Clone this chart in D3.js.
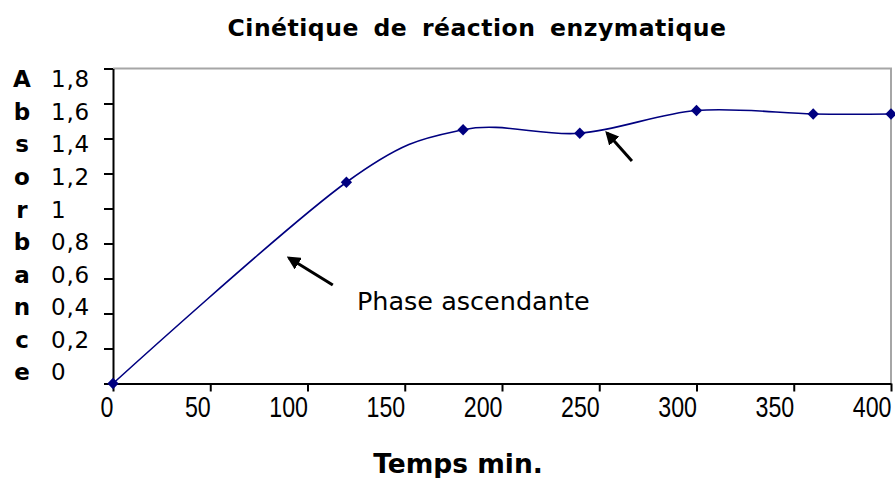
<!DOCTYPE html>
<html>
<head>
<meta charset="utf-8">
<script src="https://cdn.jsdelivr.net/npm/d3@7"></script>
<style>
  body { margin: 0; background: #fff; }
  svg { display: block; }
</style>
</head>
<body>
<div id="chart"></div>
<script>
// data
var temps = [0, 120, 180, 240, 300, 360, 400];
var absorbance = [0, 1.15, 1.45, 1.43, 1.56, 1.54, 1.54];
var xTicks = [0, 50, 100, 150, 200, 250, 300, 350, 400];
var yTicks = [0, 0.2, 0.4, 0.6, 0.8, 1, 1.2, 1.4, 1.6, 1.8];
var yLetters = ["A", "b", "s", "o", "r", "b", "a", "n", "c", "e"];
var yLabels = ["1,8", "1,6", "1,4", "1,2", "1", "0,8", "0,6", "0,4", "0,2", "0"];
// annotation arrows in data units: [tail, tip]
var arrows = [
  [[113, 0.563], [90.5, 0.717]],
  [[266.8, 1.271], [254, 1.431]]
];
var note = {x: 125.4, y: 0.42, text: "Phase ascendante"};

var width = 895,
    height = 478;

var svg = d3.select("#chart").append("svg")
    .attr("width", width)
    .attr("height", height);

var x = d3.scaleLinear().domain([0, 400]).range([113, 891]);
var y = d3.scaleLinear().domain([0, 1.8]).range([383.5, 68.5]);

// title
svg.append("text")
    .attr("x", 477)
    .attr("y", 36)
    .attr("text-anchor", "middle")
    .style("font-family", "DejaVu Sans, Verdana, sans-serif")
    .style("font-weight", "bold")
    .style("font-size", "23.5px")
    .style("letter-spacing", "0.5px")
    .style("word-spacing", "6px")
    .text("Cinétique de réaction enzymatique");

// plot frame: grey top and right
svg.append("path")
    .attr("d", "M" + x(0) + "," + y(1.8) + "H" + x(400) + "V" + y(0))
    .attr("fill", "none")
    .attr("stroke", "#a6a6a6")
    .attr("stroke-width", 2);

// axes
var xAxis = svg.append("g")
    .attr("transform", "translate(0," + y(0) + ")")
    .call(d3.axisBottom(x).tickValues(xTicks).tickSize(8).tickSizeOuter(0).tickPadding(5));

// narrow digits: squeeze horizontally around the tick
xAxis.selectAll("text")
    .attr("text-anchor", "end")
    .attr("transform", "scale(0.8,1)")
    .style("font-family", "Liberation Sans, Arial, sans-serif")
    .style("font-size", "29px")
    .attr("fill", "#000");

var yAxis = svg.append("g")
    .attr("transform", "translate(" + x(0) + ",0)")
    .call(d3.axisLeft(y).tickValues(yTicks).tickSize(9).tickSizeOuter(0).tickFormat(""));

svg.selectAll(".domain, .tick line")
    .attr("stroke", "#000")
    .attr("stroke-width", 2);

// vertical axis title and the value column, as a text block
var rows = d3.scalePoint().domain(d3.range(yLabels.length)).range([79, 372]);

svg.append("g").selectAll("text")
    .data(yLetters)
    .join("text")
    .attr("x", 22)
    .attr("y", function(d, i) { return rows(i); })
    .attr("dy", "0.36em")
    .attr("text-anchor", "middle")
    .style("font-family", "DejaVu Sans, Verdana, sans-serif")
    .style("font-weight", "bold")
    .style("font-size", "23px")
    .text(function(d) { return d; });

svg.append("g").selectAll("text")
    .data(yLabels)
    .join("text")
    .attr("x", 51)
    .attr("y", function(d, i) { return rows(i); })
    .attr("dy", "0.36em")
    .style("font-family", "DejaVu Sans, Verdana, sans-serif")
    .style("font-size", "23px")
    .style("letter-spacing", "0.8px")
    .text(function(d) { return d; });

// x axis title
svg.append("text")
    .attr("x", 458)
    .attr("y", 473)
    .attr("text-anchor", "middle")
    .style("font-family", "DejaVu Sans, Verdana, sans-serif")
    .style("font-weight", "bold")
    .style("font-size", "26.5px")
    .text("Temps min.");

// series
var points = temps.map(function(t, i) { return [t, absorbance[i]]; });

var line = d3.line()
    .x(function(d) { return x(d[0]); })
    .y(function(d) { return y(d[1]); })
    .curve(d3.curveCardinal.tension(0));

svg.append("path")
    .datum(points)
    .attr("d", line)
    .attr("fill", "none")
    .attr("stroke", "#000080")
    .attr("stroke-width", 1.6);

var diamond = d3.symbol().type(d3.symbolSquare).size(64);

svg.append("g").selectAll("path")
    .data(points)
    .join("path")
    .attr("d", diamond)
    .attr("transform", function(d) { return "translate(" + x(d[0]) + "," + y(d[1]) + ") rotate(45)"; })
    .attr("fill", "#000080");

// annotations
svg.append("defs").append("marker")
    .attr("id", "head")
    .attr("viewBox", "0 0 10 10")
    .attr("refX", 8)
    .attr("refY", 5)
    .attr("markerWidth", 4.5)
    .attr("markerHeight", 4.5)
    .attr("markerUnits", "strokeWidth")
    .attr("orient", "auto")
  .append("path")
    .attr("d", "M0,0L10,5L0,10z")
    .attr("fill", "#000");

svg.append("g").selectAll("line")
    .data(arrows)
    .join("line")
    .attr("x1", function(d) { return x(d[0][0]); })
    .attr("y1", function(d) { return y(d[0][1]); })
    .attr("x2", function(d) { return x(d[1][0]); })
    .attr("y2", function(d) { return y(d[1][1]); })
    .attr("stroke", "#000")
    .attr("stroke-width", 3)
    .attr("marker-end", "url(#head)");

svg.append("text")
    .attr("x", x(note.x))
    .attr("y", y(note.y))
    .style("font-family", "DejaVu Sans, Verdana, sans-serif")
    .style("font-size", "25.5px")
    .text(note.text);
</script>
</body>
</html>
